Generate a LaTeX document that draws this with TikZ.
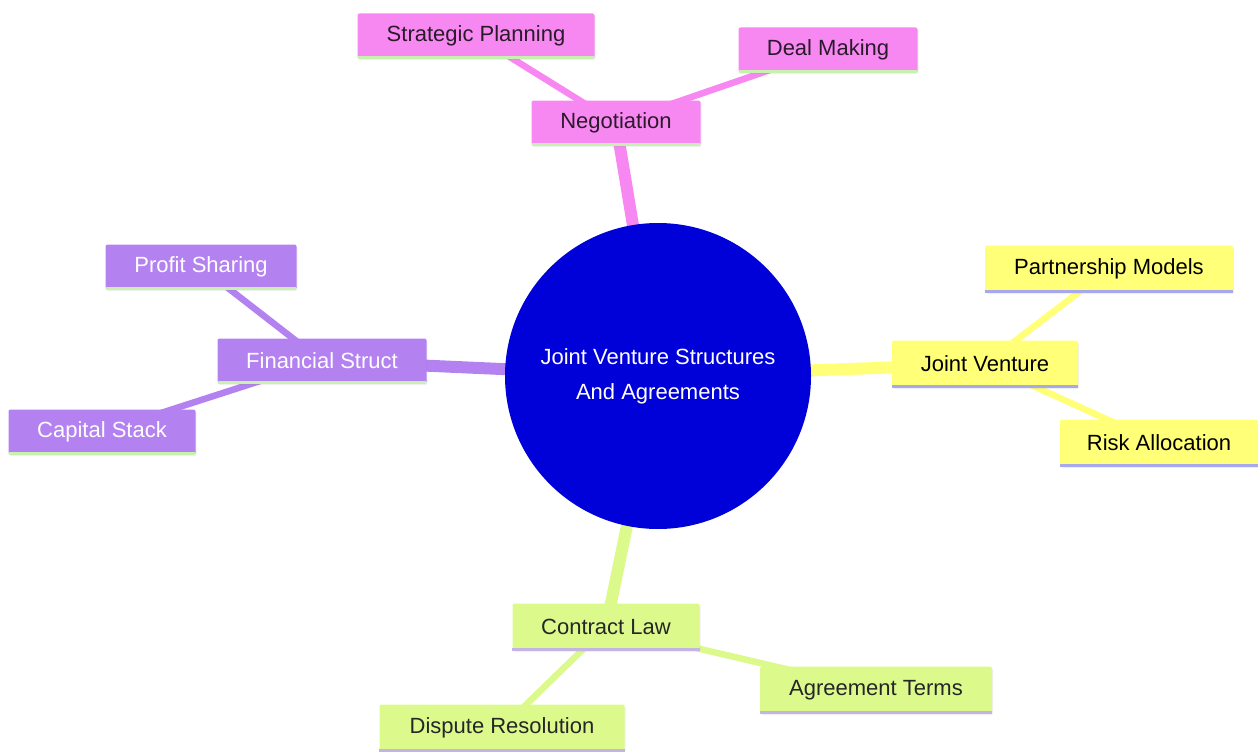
\documentclass[tikz,border=0pt]{standalone}
\usepackage{fontspec}
\setmainfont{Liberation Sans}
\usetikzlibrary{backgrounds,shadows}
\definecolor{pinkc}{HTML}{F788F2}
\definecolor{purplec}{HTML}{B482F0}
\definecolor{yellowc}{HTML}{FFFF78}
\definecolor{greenc}{HTML}{DCFA8C}
\definecolor{rootc}{HTML}{0000D8}
\definecolor{lgreen}{HTML}{C8F0B0}
\definecolor{lav}{HTML}{A8A8EC}
\definecolor{lav2}{HTML}{C4B4E4}
\definecolor{darktxt}{HTML}{2A1A2A}
\begin{document}
\begin{tikzpicture}[x=1pt,y=-1pt,
  box/.style={rectangle, rounded corners=2pt, minimum height=45pt, inner sep=0pt,
    font=\fontsize{22}{26}\selectfont,
    drop shadow={opacity=0.12, shadow xshift=1pt, shadow yshift=-1.5pt}},
  pinkbox/.style={box, fill=pinkc, text=darktxt},
  purplebox/.style={box, fill=purplec, text=white},
  yellowbox/.style={box, fill=yellowc, text=black, minimum height=47pt},
  greenbox/.style={box, fill=greenc, text=black!85, minimum height=47pt},
  mainedge/.style={line width=12pt},
  subedge/.style={line width=6.5pt},
  underline/.style={line width=3pt}
]
\useasboundingbox (0,0) rectangle (1258,752);

% nodes
\node[pinkbox, minimum width=237pt] (sp) at (476,36) {Strategic Planning};
\node[pinkbox, minimum width=179pt] (dm) at (828,50) {Deal Making};
\node[pinkbox, minimum width=169pt] (neg) at (616,123) {Negotiation};

\node[purplebox, minimum width=191pt] (ps) at (201,267) {Profit Sharing};
\node[purplebox, minimum width=209pt] (fs) at (322,361) {Financial Struct};
\node[purplebox, minimum width=187pt] (cs) at (102,432) {Capital Stack};

\node[yellowbox, minimum width=248pt] (pm) at (1109,269) {Partnership Models};
\node[yellowbox, minimum width=186pt] (jv) at (985,364) {Joint Venture};
\node[yellowbox, minimum width=198pt] (ra) at (1159,443) {Risk Allocation};

\node[greenbox, minimum width=187pt] (cl) at (606,627) {Contract Law};
\node[greenbox, minimum width=232pt] (at) at (876,690) {Agreement Terms};
\node[greenbox, minimum width=245pt] (dr) at (502,728) {Dispute Resolution};

\node[circle, fill=rootc, minimum size=306pt, inner sep=0pt, text=white,
  align=center, font=\fontsize{22}{35}\selectfont] (root) at (658,376)
  {Joint Venture Structures\\And Agreements};

% bottom borders
\foreach \n in {sp,dm,neg,ps,fs,cs}
  \draw[underline, lgreen] ([yshift=1.5pt,xshift=1pt]\n.south west) -- ([yshift=1.5pt,xshift=-1pt]\n.south east);
\foreach \n in {pm,jv,ra}
  \draw[underline, lav] ([yshift=1.5pt]\n.south west) -- ([yshift=1.5pt]\n.south east);
\foreach \n in {cl,at,dr}
  \draw[underline, lav2] ([yshift=1.5pt]\n.south west) -- ([yshift=1.5pt]\n.south east);

% edges
\begin{pgfonlayer}{background}
\draw[mainedge, pinkc] (root.center) -- (neg.center);
\draw[subedge, pinkc] (neg.center) -- (sp.center);
\draw[subedge, pinkc] (neg.center) -- (dm.center);
\draw[mainedge, purplec] (root.center) -- (fs.center);
\draw[subedge, purplec] (fs.center) -- (ps.center);
\draw[subedge, purplec] (fs.center) -- (cs.center);
\draw[mainedge, yellowc] (root.center) -- (jv.center);
\draw[subedge, yellowc] (jv.center) -- (pm.center);
\draw[subedge, yellowc] (jv.center) -- (ra.center);
\draw[mainedge, greenc] (root.center) -- (cl.center);
\draw[subedge, greenc] (cl.center) -- (at.center);
\draw[subedge, greenc] (cl.center) -- (dr.center);
\end{pgfonlayer}
\end{tikzpicture}
\end{document}
